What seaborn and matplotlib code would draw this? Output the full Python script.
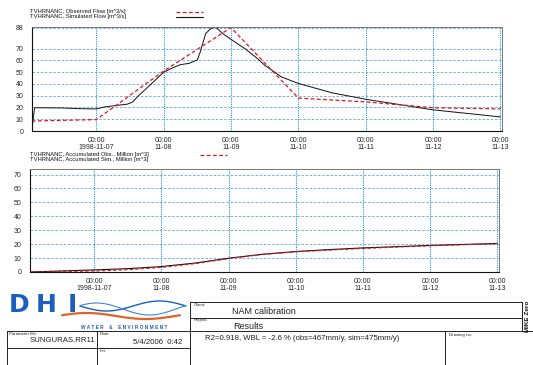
import matplotlib
matplotlib.use("Agg")
import matplotlib.dates as mdates
import matplotlib.pyplot as plt
import numpy as np
import pandas as pd
import seaborn as sns
from matplotlib.ticker import FixedLocator, MultipleLocator

# observed flow [m^3/s]
obs_time = ["1998-11-06 01:00", "1998-11-07 00:00", "1998-11-08 00:00", "1998-11-09 00:00",
            "1998-11-10 00:00", "1998-11-11 00:00", "1998-11-12 00:00", "1998-11-13 00:00"]
obs_flow = [8.5, 9.7, 51.0, 88.0, 28.0, 24.8, 19.8, 18.8]

# simulated flow [m^3/s]
sim_time = ["1998-11-06 01:00", "1998-11-06 02:00", "1998-11-06 12:00", "1998-11-06 18:00",
            "1998-11-07 00:00", "1998-11-07 03:00", "1998-11-07 08:00", "1998-11-07 11:00",
            "1998-11-07 13:00", "1998-11-07 15:00", "1998-11-07 18:00", "1998-11-07 20:00",
            "1998-11-08 00:00", "1998-11-08 03:00", "1998-11-08 06:00", "1998-11-08 09:00",
            "1998-11-08 12:00", "1998-11-08 13:00", "1998-11-08 14:00", "1998-11-08 15:00",
            "1998-11-08 17:00", "1998-11-08 18:00", "1998-11-08 19:00", "1998-11-08 21:00",
            "1998-11-09 00:00", "1998-11-09 05:00", "1998-11-09 09:00", "1998-11-09 12:00",
            "1998-11-09 18:00", "1998-11-10 00:00", "1998-11-10 12:00", "1998-11-11 00:00",
            "1998-11-11 12:00", "1998-11-12 00:00", "1998-11-12 12:00", "1998-11-13 00:00"]
sim_flow = [0.0, 19.8, 19.6, 19.0, 18.8, 20.5, 22.0, 22.8,
            24.8, 30.0, 36.5, 41.0, 50.0, 53.5, 56.5, 57.5,
            60.5, 67.0, 75.0, 83.0, 87.5, 88.0, 87.5, 83.0,
            78.0, 70.0, 62.5, 56.0, 46.0, 40.5, 32.5, 27.0,
            22.5, 18.0, 15.0, 12.0]

# accumulated volumes [mill. m^3]
acc_time = ["1998-11-06 01:00", "1998-11-07 00:00", "1998-11-07 12:00", "1998-11-08 00:00",
            "1998-11-08 12:00", "1998-11-09 00:00", "1998-11-09 12:00", "1998-11-10 00:00",
            "1998-11-10 12:00", "1998-11-11 00:00", "1998-11-11 12:00", "1998-11-12 00:00",
            "1998-11-12 12:00", "1998-11-13 00:00"]
acc_obs = [0.0, 0.7, 1.6, 3.3, 6.0, 9.6, 12.6, 14.5, 15.7, 16.9, 17.9, 18.8, 19.6, 20.3]
acc_sim = [0.0, 1.5, 2.4, 3.9, 6.4, 9.9, 12.7, 14.7, 16.1, 17.3, 18.2, 19.1, 19.8, 20.5]

day_ticks = ["1998-11-07", "1998-11-08", "1998-11-09", "1998-11-10",
             "1998-11-11", "1998-11-12", "1998-11-13"]
day_labels = ["00:00\n1998-11-07", "00:00\n11-08", "00:00\n11-09", "00:00\n11-10",
              "00:00\n11-11", "00:00\n11-12", "00:00\n11-13"]

x_start, x_end = "1998-11-06 01:05", "1998-11-13 00:35"

OBS_RED = "#e0141e"
HGRID = "#5aa8d6"
VGRID = "#1e96d8"

sns.set_style("white")
plt.rcParams["font.family"] = ["Liberation Sans", "DejaVu Sans"]

W, H = 533, 365
fig = plt.figure(figsize=(W / 100, H / 100), dpi=100)

# pixel-space overlay for legends and title block
ov = fig.add_axes([0, 0, 1, 1], zorder=-1)
ov.set_xlim(0, W)
ov.set_ylim(H, 0)
ov.axis("off")


def style_axes(ax, ymax, yticks, ylabels):
    ax.set_xlim(pd.Timestamp(x_start), pd.Timestamp(x_end))
    ax.set_ylim(0, ymax)
    ax.xaxis.set_major_locator(FixedLocator(mdates.date2num(pd.to_datetime(day_ticks))))
    ax.set_xticklabels(day_labels, fontsize=5, linespacing=1.0)
    ax.xaxis.set_minor_locator(mdates.HourLocator(byhour=range(0, 24, 3)))
    ax.yaxis.set_major_locator(FixedLocator(yticks))
    ax.set_yticklabels(ylabels, fontsize=5)
    ax.yaxis.set_minor_locator(MultipleLocator(5))
    ax.tick_params(axis="both", which="major", length=3, width=0.5, pad=1.5, color="#222222")
    ax.tick_params(axis="both", which="minor", length=1.5, width=0.4, color="#222222")
    ax.tick_params(axis="y", pad=3)
    ax.xaxis.grid(True, which="major", linestyle=(0, (1, 1)), color=VGRID, linewidth=0.8)
    ax.yaxis.grid(True, which="major", linestyle=(0, (3, 2)), color=HGRID, linewidth=0.6)
    ax.set_axisbelow(True)
    for side in ["left", "bottom"]:
        ax.spines[side].set_color("#111111")
        ax.spines[side].set_linewidth(0.8)
    for side in ["top", "right"]:
        ax.spines[side].set_color("#777777")
        ax.spines[side].set_linewidth(0.7)
    ax.set_xlabel("")
    ax.set_ylabel("")


# top: flow
ax1 = fig.add_axes([32 / W, 1 - 131 / H, 470 / W, 104 / H])
df_obs = pd.DataFrame({"time": pd.to_datetime(obs_time), "flow": obs_flow})
df_sim = pd.DataFrame({"time": pd.to_datetime(sim_time), "flow": sim_flow})
sns.lineplot(data=df_sim, x="time", y="flow", ax=ax1, color="#111111", linewidth=0.7)
sns.lineplot(data=df_obs, x="time", y="flow", ax=ax1, color=OBS_RED, linewidth=0.9,
             linestyle=(0, (3, 2)))
style_axes(ax1, 88.5, [0, 10, 20, 30, 40, 50, 60, 70, 88],
           ["0", "10", "20", "30", "40", "50", "60", "70", "88"])

# bottom: accumulated
ax2 = fig.add_axes([30 / W, 1 - 272 / H, 469 / W, 103 / H])
df_acc = pd.DataFrame({"time": pd.to_datetime(acc_time), "obs": acc_obs, "sim": acc_sim})
sns.lineplot(data=df_acc, x="time", y="sim", ax=ax2, color="#111111", linewidth=0.8)
sns.lineplot(data=df_acc, x="time", y="obs", ax=ax2, color=OBS_RED, linewidth=0.8,
             linestyle=(0, (3, 2)))
style_axes(ax2, 74, [0, 10, 20, 30, 40, 50, 60, 70],
           ["0", "10", "20", "30", "40", "50", "60", "70"])

# legends
leg_kw = dict(fontsize=4.2, va="center", ha="left", color="#111111")
ov.text(30, 11.2, "TVHRNANC, Observed Flow [m^3/s]", **leg_kw)
ov.text(30, 16.8, "TVHRNANC, Simulated Flow [m^3/s]", **leg_kw)
ov.plot([176, 203], [11.5, 11.5], color=OBS_RED, lw=0.9, ls=(0, (3, 2)))
ov.plot([176, 203], [16.5, 16.5], color="#111111", lw=0.8)
ov.text(30, 154.2, "TVHRNANC, Accumulated Obs., Million [m^3]", **leg_kw)
ov.text(30, 159.8, "TVHRNANC, Accumulated Sim., Million [m^3]", **leg_kw)
ov.plot([200, 227], [154.5, 154.5], color=OBS_RED, lw=0.9, ls=(0, (3, 2)))

# title block frame
lk = dict(color="#222222", lw=0.7)
ov.plot([190, 522], [302, 302], **lk)
ov.plot([190, 522], [318, 318], **lk)
ov.plot([7, 533], [331, 331], **lk)
ov.plot([7, 190], [348, 348], **lk)
ov.plot([190, 190], [302, 365], **lk)
ov.plot([7, 7], [331, 365], **lk)
ov.plot([97, 97], [331, 365], **lk)
ov.plot([445, 445], [331, 365], **lk)
ov.plot([522, 522], [302, 331], **lk)

small = dict(fontsize=3.2, va="center", ha="left", color="#222222")
ov.text(194, 305, "Client:", **small)
ov.text(194, 320.5, "Project:", **small)
ov.text(9, 334, "Parameter file:", **small)
ov.text(100, 334, "Date:", **small)
ov.text(100, 351, "Init:", **small)
ov.text(449, 335, "Drawing no.", **small)
ov.text(232, 311, "NAM calibration", fontsize=6.5, va="center", ha="left", color="#222222")
ov.text(233, 326.5, "Results", fontsize=6.5, va="center", ha="left", color="#222222")
ov.text(205, 339, "R2=0.918, WBL = -2.6 % (obs=467mm/y, sim=475mm/y)", fontsize=5.6,
        va="center", ha="left", color="#222222")
ov.text(95, 341, "SUNGURAS.RR11", fontsize=5.6, va="center", ha="right", color="#222222")
ov.text(182, 342, "5/4/2006  0:42", fontsize=5.6, va="center", ha="right", color="#222222")
ov.text(527.5, 316, "MIKE Zero", fontsize=4.6, fontweight="bold", rotation=90,
        va="center", ha="center", color="#111111")

# DHI logo
logo_blue = "#1c5fc0"
for letter, lx in zip(["D", "H", "I"], [9, 36, 68]):
    ov.text(lx, 305.5, letter, fontsize=18, fontweight="bold", color=logo_blue,
            va="center", ha="left", family="DejaVu Sans")
sx = np.linspace(80, 186, 80)
ov.plot(sx, 306 + 5 * np.sin((sx - 80) / 106 * 2 * np.pi), color=logo_blue, lw=1.0)
ov.plot(sx, 309 - 6 * np.sin((sx - 80) / 106 * 2 * np.pi + 0.6), color="#3d86d9", lw=0.8)
ox = np.linspace(62, 180, 80)
ov.plot(ox, 316 + 3 * np.sin((ox - 62) / 118 * 2 * np.pi + 3.4), color="#e0642a", lw=1.6)
ov.text(124, 327.5, "W A T E R    &    E N V I R O N M E N T", fontsize=3.4,
        color=logo_blue, ha="center", va="center", fontweight="bold")

fig.savefig("out.png", dpi=100)
